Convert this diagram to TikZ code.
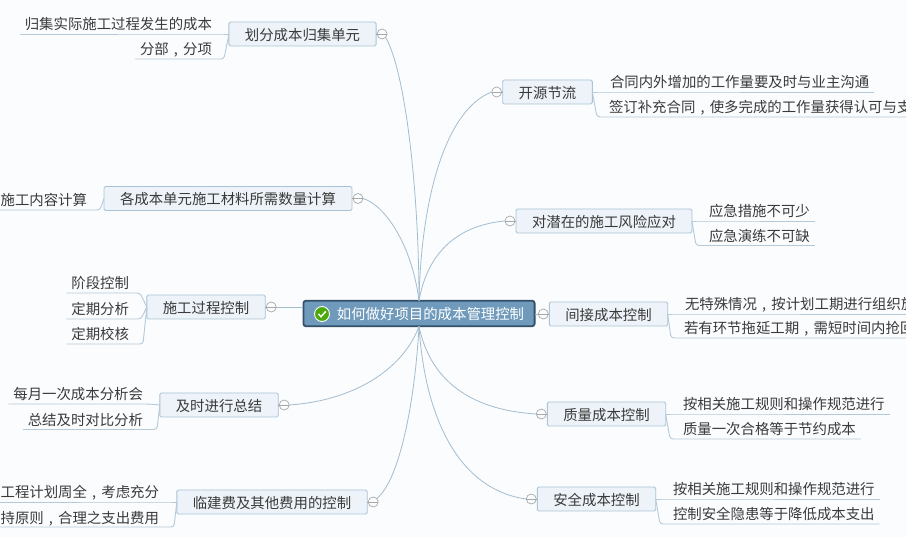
\documentclass[tikz,border=0pt]{standalone}
\usepackage{fontspec}
\setmainfont{Noto Sans CJK SC}
\newcommand{\dou}{\makebox[1em][c]{,}}
\usetikzlibrary{positioning}
\definecolor{pagebg}{HTML}{FBFCFE}
\definecolor{topicfill}{HTML}{EDF3F8}
\definecolor{topicline}{HTML}{A9C4D6}
\definecolor{rootfill}{HTML}{6F9ABB}
\definecolor{rootline}{HTML}{34506B}
\definecolor{curveline}{HTML}{A3BDD0}
\definecolor{leafline}{HTML}{B5C9D8}
\definecolor{inkgray}{HTML}{3A3A3A}
\definecolor{togglegray}{HTML}{A8A8A8}
\definecolor{okgreen}{HTML}{4CA90C}
\tikzset{
    textsize/.style={font=\fontsize{14.4}{16}\selectfont, text=inkgray},
    topic/.style={textsize, draw=topicline, fill=topicfill, line width=0.9pt, rounded corners=1.5pt,
        inner xsep=16pt, inner ysep=0pt, minimum height=24pt, text height=13pt, text depth=0pt, outer sep=0pt},
    root/.style={topic, draw=rootline, fill=rootfill, text=white, line width=1.8pt, rounded corners=2.5pt,
        inner xsep=10.5pt, minimum height=25.5pt},
    leafR/.style={textsize, anchor=south west, inner xsep=5pt, inner ysep=0pt, minimum height=21pt,
        text height=13pt, text depth=0pt, outer sep=0pt},
    leafL/.style={leafR, anchor=south east},
    toggle/.style={circle, draw=togglegray, fill=pagebg, line width=0.7pt, minimum size=10pt, inner sep=0pt, outer sep=0pt},
    branch/.style={draw=curveline, line width=0.8pt},
    leafbranch/.style={draw=leafline, line width=0.9pt, rounded corners=3pt},
}
\begin{document}
\begin{tikzpicture}[x=1pt, y=-1pt]
\fill[pagebg] (0,0) rectangle (906,537);
\useasboundingbox (0,0) rectangle (906,537);
% root
\node[root] (root) at (419,313.5) {\hspace*{23pt}如何做好项目的成本管理控制};
\node[circle, fill=okgreen, draw=white, line width=0.9pt, minimum size=15pt, inner sep=0pt] (okicon) at (322,314) {};
\draw[white, line width=1.5pt] ([shift={(-3.5,0)}]okicon.center) -- ([shift={(-1,2.7)}]okicon.center) -- ([shift={(3.8,-2.6)}]okicon.center);
% left topics
\node[topic] (divide) at (302.5,34) {划分成本归集单元};
\node[topic] (material) at (228,198.5) {各成本单元施工材料所需数量计算};
\node[topic] (process) at (206,307) {施工过程控制};
\node[topic] (review) at (219,405) {及时进行总结};
\node[topic] (temp) at (272,502) {临建费及其他费用的控制};
% right topics
\node[topic] (income) at (547.5,92) {开源节流};
\node[topic] (risk) at (604,221) {对潜在的施工风险应对};
\node[topic] (indirect) at (608.5,314) {间接成本控制};
\node[topic] (quality) at (606.5,414) {质量成本控制};
\node[topic] (safety) at (596.5,499) {安全成本控制};
% collapse marks
\foreach \name in {divide,material,process,review,temp}
    \node[toggle, right=1pt of \name] (\name T) {};
\foreach \name in {income,risk,indirect,quality,safety}
    \node[toggle, left=1pt of \name] (\name T) {};
% left leaves
\node[leafL] (divideA) at (217,34) {归集实际施工过程发生的成本};
\node[leafL] (divideB) at (217,59) {分部\dou 分项};
\node[leafL] (materialA) at (92,210) {施工内容计算};
\node[leafL] (processA) at (134,293) {阶段控制};
\node[leafL] (processB) at (134,319) {定期分析};
\node[leafL] (processC) at (134,344) {定期校核};
\node[leafL] (reviewA) at (148,404) {每月一次成本分析会};
\node[leafL] (reviewB) at (148,429.5) {总结及时对比分析};
\node[leafL] (tempA) at (164,502) {工程计划周全\dou 考虑充分};
\node[leafL] (tempB) at (164,527) {持原则\dou 合理之支出费用};
% right leaves
\node[leafR] (incomeA) at (605,92) {合同内外增加的工作量要及时与业主沟通};
\node[leafR] (incomeB) at (604,117) {签订补充合同\dou 使多完成的工作量获得认可与支};
\node[leafR] (riskA) at (704,221) {应急措施不可少};
\node[leafR] (riskB) at (704,245.5) {应急演练不可缺};
\node[leafR] (indirectA) at (680,314) {无特殊情况\dou 按计划工期进行组织施};
\node[leafR] (indirectB) at (679,338) {若有环节拖延工期\dou 需短时间内抢回};
\node[leafR] (qualityA) at (678,414) {按相关施工规则和操作规范进行};
\node[leafR] (qualityB) at (678,439) {质量一次合格等于节约成本};
\node[leafR] (safetyA) at (668,499) {按相关施工规则和操作规范进行};
\node[leafR] (safetyB) at (668,524) {控制安全隐患等于降低成本支出};
% root to topics
\draw[branch] (divideT.south east) .. controls (405,70) and (419,190) .. (root.north);
\draw[branch] (materialT.east) .. controls (385,205) and (412,245) .. (root.north);
\draw[branch] (processT.east) -- (root.west |- processT.east);
\draw[branch] (reviewT.east) .. controls (360,400) and (405,365) .. (root.south);
\draw[branch] (tempT.north east) .. controls (400,480) and (415,400) .. (root.south);
\draw[branch] (incomeT.west) .. controls (445,110) and (421,200) .. (root.north);
\draw[branch] (riskT.west) .. controls (460,225) and (428,250) .. (root.north);
\draw[branch] (indirectT.west) -- (root.east |- indirectT.west);
\draw[branch] (qualityT.west) .. controls (470,410) and (430,380) .. (root.south);
\draw[branch] (safetyT.west) .. controls (460,490) and (425,420) .. (root.south);
% collapse bars
\foreach \name in {divide,material,process,review,temp}
    \draw[togglegray, line width=0.7pt] (\name.east) -- (\name T.east);
\foreach \name in {income,risk,indirect,quality,safety}
    \draw[togglegray, line width=0.7pt] (\name.west) -- (\name T.west);
% topics to leaves
\foreach \from/\to/\dx in {divide/divideA/0, divide/divideB/7, material/materialA/8,
        process/processA/6, process/processB/7, process/processC/9,
        review/reviewA/0, review/reviewB/9, temp/tempA/0, temp/tempB/10}
    \draw[leafbranch] (\from.west) -- ([xshift=\dx]\to.south east) -- (\to.south west);
\foreach \from/\to/\dx in {income/incomeA/0, income/incomeB/7, risk/riskA/0, risk/riskB/8,
        indirect/indirectA/0, indirect/indirectB/8, quality/qualityA/0, quality/qualityB/8,
        safety/safetyA/0, safety/safetyB/8}
    \draw[leafbranch] (\from.east) -- ([xshift=-\dx]\to.south west) -- (\to.south east);
\end{tikzpicture}
\end{document}
